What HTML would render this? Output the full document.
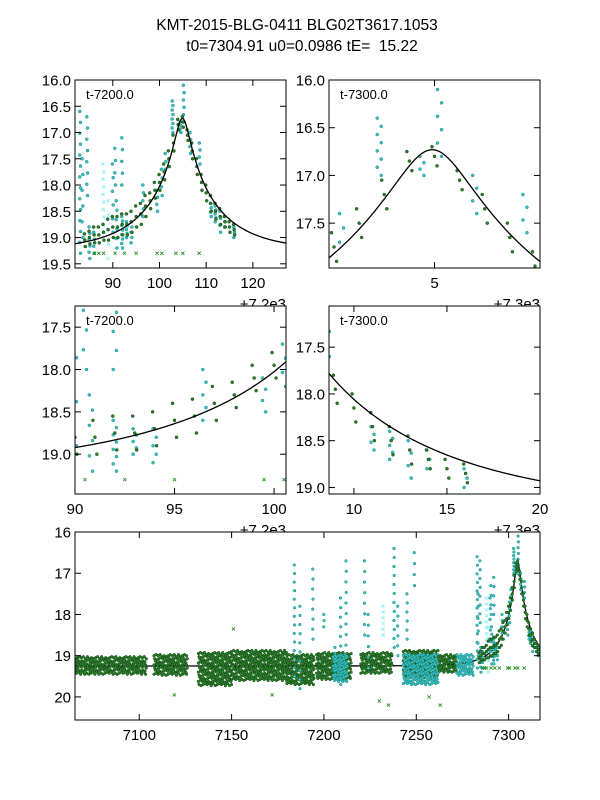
<!DOCTYPE html>
<html><head><meta charset="utf-8">
<style>
html,body{margin:0;padding:0;background:#fff;}
svg{display:block;font-family:"Liberation Sans",sans-serif;}
</style></head>
<body>
<svg id="fig" width="600" height="800" viewBox="0 0 600 800" xmlns="http://www.w3.org/2000/svg">
<rect width="600" height="800" fill="#fff"/>
<text x="297" y="30" font-size="15.5" text-anchor="middle">KMT-2015-BLG-0411 BLG02T3617.1053</text>
<text x="302" y="51" font-size="15.5" text-anchor="middle" xml:space="preserve">t0=7304.91 u0=0.0986 tE=  15.22</text>
<g id="panels"></g>
</svg>
<script>
// ---- model parameters ----
const t0 = 7304.91, u0 = 0.0986, tE = 15.22, baseMag = 19.25;
// ---- dense baseline bands (t start, t end, mag lo, mag hi, kind) ----
const bandT0 = [7062,7108,7132,7150,7180,7196,7205,7220,7243,7243,7262,7272];
const bandT1 = [7104,7126,7150,7180,7195,7215,7213,7237,7262,7262,7272,7281];
const bandLo = [19.05,19.0,18.95,18.9,19.0,18.95,19.0,18.95,18.9,19.0,19.0,19.0];
const bandHi = [19.45,19.45,19.7,19.6,19.7,19.6,19.6,19.45,19.5,19.7,19.4,19.45];
const bandKind = ['g','g','g','g','g','g','c','g','g','c','g','c'];
// ---- observation columns (nightly clusters) ----
const colT  = [7184,7187,7194,7200,7206,7209,7212,7222,7224,7232,7238,7240,7245,7249,7283.0,7283.5,7284.5,7285,7286,7288,7289,7290.5,7290.8,7292,7293,7294,7296.5,7299.5,7300.5,7301.3,7302.8,7304.5,7305.2,7306.6,7308.6,7311,7312,7313,7314,7316,7290,7292];
const colLo = [16.8,17.8,16.9,18.0,18.8,17.6,16.7,16.7,18.0,17.8,16.4,17.8,17.5,16.5,16.6,17.5,16.7,18.8,18.9,17.6,18.3,17.3,18.3,18.6,18.7,18.7,18.0,18.1,17.7,17.4,16.4,16.8,16.1,17.0,17.2,18.35,18.4,18.5,18.6,18.8,17.6,17.1];
const colHi = [19.5,19.8,18.6,18.3,19.5,19.7,19.0,18.5,19.3,18.5,18.8,19.0,18.6,17.3,19.3,19.0,18.2,19.4,19.3,18.9,19.4,18.0,19.2,19.2,19.0,19.1,18.6,18.5,18.2,17.7,17.0,17.0,16.8,17.4,17.6,18.6,18.7,18.9,18.8,19.0,18.9,18.0];
const colN  = [14,10,8,3,6,10,10,8,6,6,12,6,6,4,14,6,8,6,4,10,5,4,6,8,5,5,5,4,4,3,8,4,6,4,4,4,5,4,3,3,6,5];
const colKind = ['c','c','c','c','c','c','c','c','c','lc','c','c','c','c','c','c','c','c','c','lc','lc','c','c','c','c','c','c','c','c','c','c','c','c','c','c','c','c','c','c','c','c','c'];
// ---- green points along the event (day-7200, center mag) ----
const gT   = [84,85,86,87,88,89,90,91,92,93,94,95,96,97,98,99,100,101,102,103,104,105,106,107,108,109,110,111,112,113,114,115,116];
const gMag = [19.05,19.0,18.95,18.95,18.9,18.85,18.8,18.8,18.75,18.75,18.7,18.6,18.55,18.4,18.3,18.1,17.95,17.75,17.5,17.2,16.85,16.8,17.05,17.35,17.65,17.95,18.15,18.35,18.5,18.6,18.7,18.8,18.85];
const gSpread = [0.12,0.12,0.15,0.15,0.15,0.2,0.2,0.2,0.2,0.2,0.2,0.2,0.2,0.2,0.15,0.15,0.15,0.15,0.15,0.15,0.1,0.1,0.1,0.15,0.15,0.15,0.15,0.15,0.15,0.15,0.1,0.1,0.1];
// ---- crosses (flagged points) ----
const xT = [7286,7287,7288,7290.5,7292.5,7295,7299.5,7300.5,7303.5,7305,7308.5,7119,7151,7172,7230,7235,7257,7263];
const xMag = [19.3,19.3,19.3,19.3,19.3,19.3,19.3,19.3,19.3,19.3,19.3,19.95,18.35,19.95,20.1,20.2,20.0,20.2];

const NS='http://www.w3.org/2000/svg';
const root=document.getElementById('panels');
function mk(tag,attrs,parent){const e=document.createElementNS(NS,tag);for(const k in attrs)e.setAttribute(k,attrs[k]);(parent||root).appendChild(e);return e;}
function model(t){const u=Math.sqrt(u0*u0+((t-t0)/tE)**2);const A=(u*u+2)/(u*Math.sqrt(u*u+4));return baseMag-2.5*Math.log10(A);}

const panels=[
 {name:'panel-peak-7200',x:75,y:80,w:211,h:188,xmin:7281.9,xmax:7327.1,ymin:16.0,ymax:19.58,off:7200,xt:[90,100,110,120],xl:['90','100','110','120'],yt:[16,16.5,17,17.5,18,18.5,19,19.5],dec:1,label:'t-7200.0',offtxt:'+7.2e3',offx:286,offy:309},
 {name:'panel-peak-7300',x:329,y:80,w:211,h:188,xmin:7300.8,xmax:7309.2,ymin:16.0,ymax:17.97,off:7300,xt:[5],xl:['5'],yt:[16,16.5,17,17.5],dec:1,label:'t-7300.0',offtxt:'+7.3e3',offx:540,offy:309},
 {name:'panel-rise',x:75,y:306,w:211,h:188,xmin:7290.0,xmax:7300.6,ymin:17.25,ymax:19.47,off:7200,xt:[90,95,100],xl:['90','95','100'],yt:[17.5,18,18.5,19],dec:1,label:'t-7200.0',offtxt:'+7.2e3',offx:286,offy:535},
 {name:'panel-decline',x:329,y:306,w:211,h:188,xmin:7308.66,xmax:7320.0,ymin:17.06,ymax:19.07,off:7300,xt:[10,15,20],xl:['10','15','20'],yt:[17.5,18,18.5,19],dec:1,label:'t-7300.0',offtxt:'+7.3e3',offx:540,offy:535},
 {name:'panel-full-season',x:75,y:532,w:465,h:188,xmin:7065.2,xmax:7317,ymin:16,ymax:20.56,off:0,xt:[7100,7150,7200,7250,7300],xl:['7100','7150','7200','7250','7300'],yt:[16,17,18,19,20],dec:0,label:'',offtxt:'',offx:0,offy:0}
];

panels.forEach(p=>{ if(p.offtxt){const t=mk('text',{x:p.offx,y:p.offy,'font-size':15,'text-anchor':'end'});


t.textContent=p.offtxt;}});

const fills={g:'#2e7d2e',c:'#3fbfbf'};const strokes={g:'#0a4a0a',c:'#128c8c'};
panels.forEach((p,pi)=>{
 const g=mk('g',{});
 
 
 mk('rect',{x:p.x,y:p.y,width:p.w,height:p.h,fill:'#fff'},g);
 const X=t=>p.x+(t-p.xmin)/(p.xmax-p.xmin)*p.w;
 const Y=m=>p.y+(m-p.ymin)/(p.ymax-p.ymin)*p.h;
 const cid='clip'+pi;
 const cp=mk('clipPath',{id:cid},g);mk('rect',{x:p.x,y:p.y,width:p.w,height:p.h},cp);
 let d='';const n=300;
 for(let k=0;k<=n;k++){const t=p.xmin+(p.xmax-p.xmin)*k/n;d+=(k?'L':'M')+X(t).toFixed(2)+','+Y(model(t)).toFixed(2);}
 const curveBelow = pi===4;
 function drawCurve(){const cv=mk('path',{d:d,fill:'none',stroke:'#000','stroke-width':1.3,'clip-path':'url(#'+cid+')'},g);
  
  }
 if(curveBelow) drawCurve();
 const pts=mk('g',{'clip-path':'url(#'+cid+')'},g);
 
 
 const r=pi===4?1.35:1.5;
 function dot(t,m,k){
  if(t<p.xmin-1||t>p.xmax+1)return;
  const cx=X(t),cy=Y(m);
  if(k==='lc'||k==='gx'){const col=k==='lc'?'#7fefef':'#1a8a1a';const s=1.6;
   mk('path',{d:`M${cx-s},${cy-s}L${cx+s},${cy+s}M${cx-s},${cy+s}L${cx+s},${cy-s}`,stroke:col,'stroke-width':0.8,fill:'none'},pts);}
  else mk('circle',{cx:cx,cy:cy,r:r,fill:fills[k],stroke:strokes[k],'stroke-width':0.5},pts);
 }
 for(let i=0;i<bandT0.length;i++){
  const dt=1.1, dm=0.075;
  if(bandT1[i]<p.xmin||bandT0[i]>p.xmax)continue;
  let row=0;
  for(let m=bandLo[i];m<=bandHi[i];m+=dm,row++){
   for(let t=bandT0[i]+(row%3)*dt/3;t<=bandT1[i];t+=dt) dot(t,m+((Math.round(t*7)%3)-1)*0.025,bandKind[i]);
  }
 }
 for(let i=0;i<colT.length;i++){
  for(let j=0;j<colN[i];j++){const m=colLo[i]+(colHi[i]-colLo[i])*(colN[i]>1?j/(colN[i]-1):0.5);
   dot(colT[i]+((j%2)?0.08:-0.08),m,colKind[i]);}
 }
 for(let i=0;i<gT.length;i++){
  const c=gMag[i],s=gSpread[i];
  for(let j=0;j<3;j++){dot(7200+gT[i]+(j-1)*0.1,c-s+j*s,'g');}
 }
 for(let i=0;i<xT.length;i++) dot(xT[i],xMag[i],'gx');
 if(!curveBelow) drawCurve();
 mk('rect',{x:p.x,y:p.y,width:p.w,height:p.h,fill:'none',stroke:'#000','stroke-width':1},g);
 p.xt.forEach((v,i)=>{const tx=X(p.off+v);
  mk('line',{x1:tx,x2:tx,y1:p.y+p.h,y2:p.y+p.h-6,stroke:'#000'},g);
  mk('line',{x1:tx,x2:tx,y1:p.y,y2:p.y+6,stroke:'#000'},g);
  const tl=mk('text',{x:tx,y:p.y+p.h+20,'font-size':15,'text-anchor':'middle'},g);
  
  
  tl.textContent=p.xl[i];});
 p.yt.forEach(v=>{const ty=Y(v);
  mk('line',{x1:p.x,x2:p.x+6,y1:ty,y2:ty,stroke:'#000'},g);
  mk('line',{x1:p.x+p.w,x2:p.x+p.w-6,y1:ty,y2:ty,stroke:'#000'},g);
  const tl=mk('text',{x:p.x-4,y:ty+5.5,'font-size':15,'text-anchor':'end'},g);
  
  
  tl.textContent=v.toFixed(p.dec);});
 if(p.label){const lb=mk('text',{x:p.x+11,y:p.y+19,'font-size':13},g);
  
  
  lb.textContent=p.label;}
});
</script>
</body></html>
